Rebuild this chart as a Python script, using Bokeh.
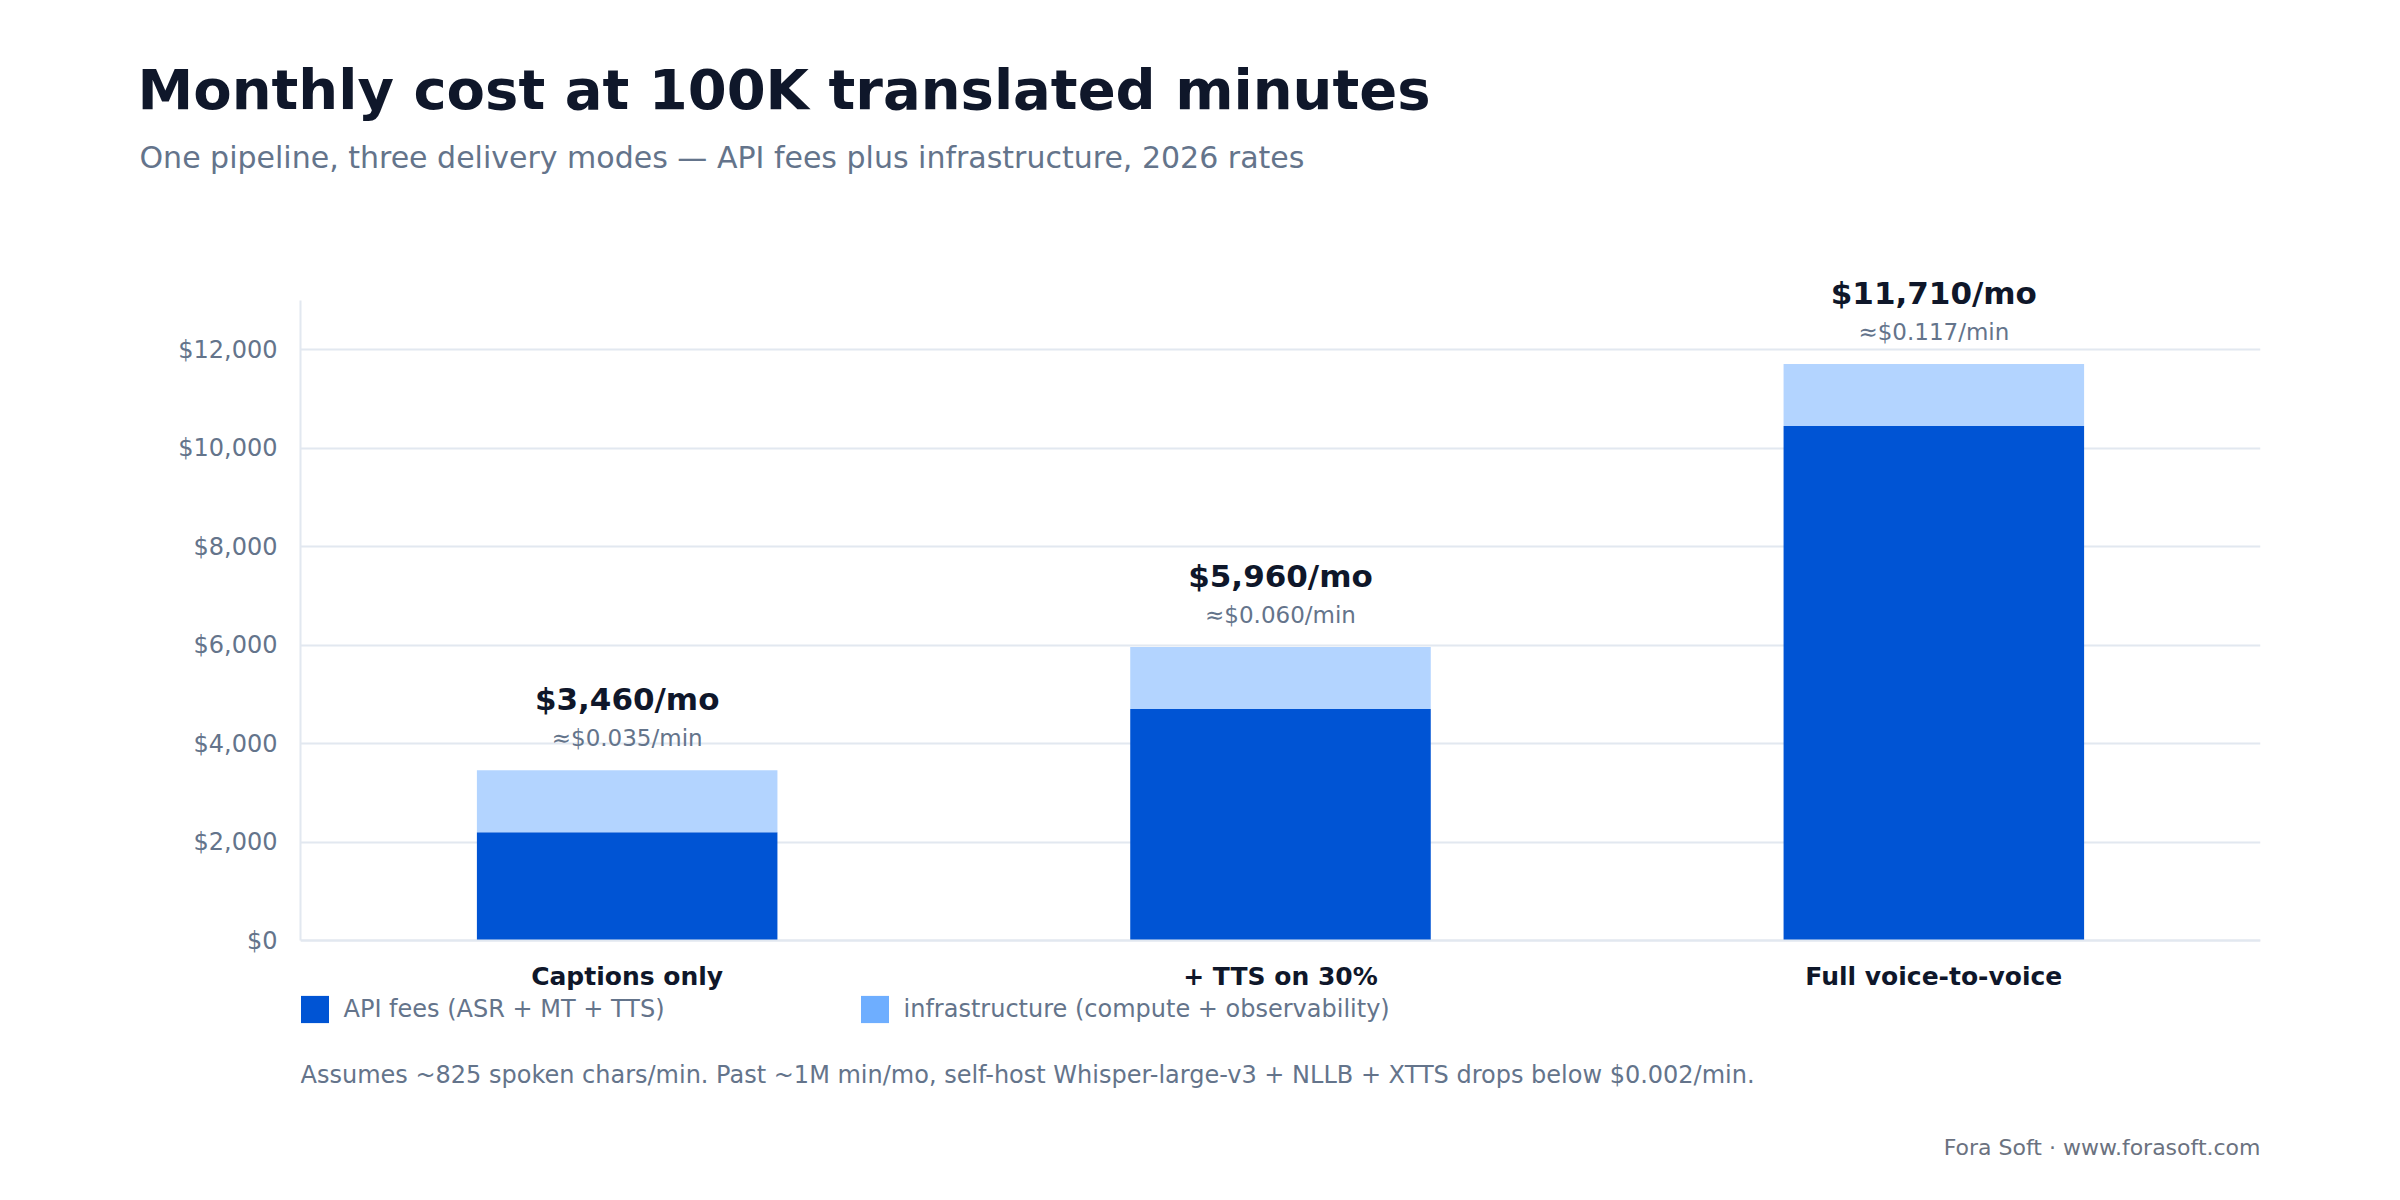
from bokeh.plotting import figure
from bokeh.layouts import column
from bokeh.models import (ColumnDataSource, FactorRange, Range1d, Label, Legend, LegendItem,
                          NumeralTickFormatter, FixedTicker)
from bokeh.core.properties import value
from bokeh.embed import file_html
from bokeh.resources import INLINE

# ---- data ----
categories = ["Captions only", "+ TTS on 30%", "Full voice-to-voice"]
api_fees = [2200, 4700, 10450]
infrastructure = [1260, 1260, 1260]
minutes_per_month = 100000
y_ticks = [0, 2000, 4000, 6000, 8000, 10000, 12000]
y_axis_max = 13000

title_text = "Monthly cost at 100K translated minutes"
subtitle_text = "One pipeline, three delivery modes \u2014 API fees plus infrastructure, 2026 rates"
legend_labels = ["API fees (ASR + MT + TTS)", "infrastructure (compute + observability)"]
footnote_text = ("Assumes ~825 spoken chars/min. Past ~1M min/mo, self-host Whisper-large-v3 "
                 "+ NLLB + XTTS drops below $0.002/min.")
source_text = "Fora Soft \u00b7 www.forasoft.com"

totals = [a + b for a, b in zip(api_fees, infrastructure)]
total_labels = [f"${t:,}/mo" for t in totals]
permin_labels = [f"\u2248${t / minutes_per_month:.3f}/min" for t in totals]

FONT = "DejaVu Sans"
DARK = "#0f172a"
SLATE = "#64748b"
GRID = "#e2e8f0"
API_C = "#0054d4"
INFRA_C = "#b3d4ff"
INFRA_SW = "#6eaeff"

W = 2384
HEADER_H = 230
MAIN_H = 1184 - HEADER_H
AX_TOP, AX_ZERO, PAGE_BOTTOM = 300, 940, 1184
units_per_px = y_axis_max / (AX_ZERO - AX_TOP)
y_start = -(PAGE_BOTTOM - AX_ZERO) * units_per_px
y_end = (AX_ZERO - HEADER_H) * units_per_px


def lab(fig, text, x, y, size, color, style="normal", align="left"):
    fig.add_layout(Label(x=x, y=y, x_units="screen", y_units="screen", text=text,
                         text_font=FONT, text_font_size=size, text_color=color,
                         text_font_style=style, text_align=align, text_baseline="alphabetic"))


# ---- header ----
hdr = figure(width=W, height=HEADER_H, x_range=Range1d(0, 1), y_range=Range1d(0, 1),
             output_backend="svg", toolbar_location=None,
             min_border_left=0, min_border_right=0, min_border_top=0, min_border_bottom=0)
hdr.frame_align = False
hdr.axis.visible = False
hdr.grid.visible = False
hdr.outline_line_color = None
hdr.border_fill_color = "white"
lab(hdr, title_text, 137, 141, "56px", DARK, "bold")
lab(hdr, subtitle_text, 139, 73, "30px", SLATE)

# ---- main chart ----
src = ColumnDataSource(dict(cat=categories, api=api_fees, infra=infrastructure,
                            total=totals, tlab=total_labels, plab=permin_labels))

p = figure(width=W, height=MAIN_H, x_range=FactorRange(*categories, range_padding=0),
           y_range=Range1d(y_start, y_end), output_backend="svg", toolbar_location=None,
           min_border_left=300, min_border_right=W - 2260, min_border_top=0, min_border_bottom=0)
p.frame_align = False
p.outline_line_color = None
p.background_fill_color = "white"
p.border_fill_color = "white"

r_api, r_infra = p.vbar_stack(["api", "infra"], x="cat", width=0.46, color=[API_C, INFRA_C],
                              line_color=None, source=src)
# hidden copy of the infrastructure segments, used only for the legend swatch colour
r_sw = p.vbar(x="cat", bottom="api", top="total", width=0.46, fill_color=INFRA_SW,
              line_color=None, source=src, visible=False)

p.text(x="cat", y="total", text="tlab", source=src, text_font=value(FONT), text_font_style="bold",
       text_font_size="31px", text_color=DARK, text_align="center", text_baseline="alphabetic",
       y_offset=-71)
p.text(x="cat", y="total", text="plab", source=src, text_font=value(FONT),
       text_font_size="23px", text_color=SLATE, text_align="center", text_baseline="alphabetic",
       y_offset=-32)

p.xgrid.grid_line_color = None
p.ygrid.grid_line_color = GRID
p.ygrid.grid_line_width = 2
p.yaxis.ticker = FixedTicker(ticks=y_ticks)
p.ygrid.ticker = FixedTicker(ticks=y_ticks)
p.yaxis.formatter = NumeralTickFormatter(format="$0,0")
p.yaxis.bounds = (0, y_axis_max)
p.xaxis.fixed_location = 0
for ax in (p.xaxis[0], p.yaxis[0]):
    ax.axis_line_color = GRID
    ax.axis_line_width = 2
    ax.major_tick_line_color = None
    ax.minor_tick_line_color = None
    ax.major_tick_out = 0
    ax.major_tick_in = 0
    ax.major_label_text_font = FONT
p.yaxis.major_label_text_font_size = "24px"
p.yaxis.major_label_text_color = SLATE
p.yaxis.major_label_standoff = 23
p.xaxis.major_label_text_font_size = "25px"
p.xaxis.major_label_text_font_style = "bold"
p.xaxis.major_label_text_color = DARK
p.xaxis.major_label_standoff = 21

lab(p, footnote_text, 0, 110, "24px", SLATE)
lab(p, source_text, 2260 - 300, 37, "22px", "#6b7280", align="right")

# legend swatch is drawn inset by 10% of the glyph box
for lbl, rend, xloc in [(legend_labels[0], r_api, 0), (legend_labels[1], r_sw, 560)]:
    lg = Legend(items=[LegendItem(label=lbl, renderers=[rend])],
                location=(xloc - 3.5, PAGE_BOTTOM - 1026.4),
                orientation="horizontal", glyph_width=35, glyph_height=34, label_standoff=12,
                padding=0, margin=0, border_line_color=None, background_fill_alpha=0,
                inactive_fill_alpha=0,
                label_text_font=FONT, label_text_font_size="24px", label_text_color=SLATE,
                label_text_baseline="middle")
    p.add_layout(lg)

layout = column(hdr, p, spacing=0)
open("out.html", "w").write(file_html(layout, INLINE))
